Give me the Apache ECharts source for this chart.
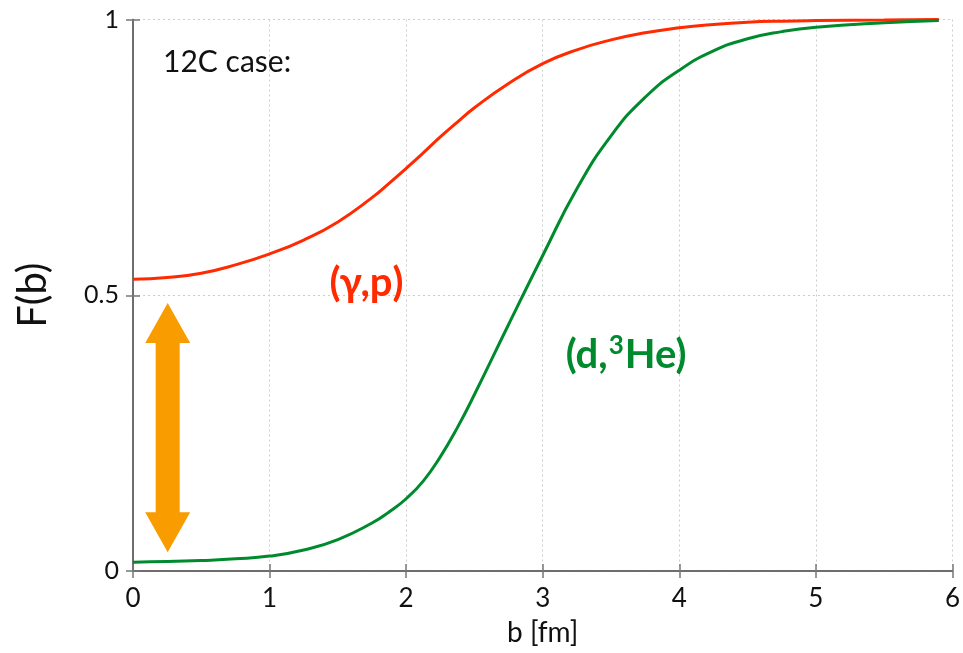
<!DOCTYPE html>
<html>
<head>
<meta charset="utf-8">
<script src="https://cdn.jsdelivr.net/npm/echarts@6/dist/echarts.min.js"></script>
<style>
  html, body { margin: 0; padding: 0; background: #fff; }
  #chart { width: 963px; height: 653px; }
</style>
</head>
<body>
<div id="chart"></div>
<script>
// impact parameter b [fm]
var bValues = [0, 0.25, 0.5, 0.75, 1, 1.25, 1.5, 1.75, 1.875, 2, 2.125, 2.25, 2.375, 2.5, 2.75, 3, 3.25, 3.5, 3.75, 4, 4.25, 4.5, 4.75, 5, 5.5, 5.9]
// F(b) for (gamma,p)
var gammaP = [0.529, 0.532, 0.540, 0.555, 0.575, 0.600, 0.633, 0.677, 0.703, 0.730, 0.758, 0.787, 0.814, 0.840, 0.884, 0.920, 0.945, 0.963, 0.976, 0.985, 0.991, 0.995, 0.997, 0.998, 0.999, 1.0]
// F(b) for (d,3He)
var dHe = [0.016, 0.017, 0.019, 0.022, 0.027, 0.038, 0.057, 0.087, 0.107, 0.131, 0.163, 0.207, 0.260, 0.320, 0.447, 0.572, 0.693, 0.789, 0.859, 0.908, 0.943, 0.965, 0.978, 0.986, 0.994, 0.998]
// orange double arrow: [b, F bottom tip, F top tip]
var arrowData = [[0.254, 0.034, 0.486]]
// text notes: [b, F, text, kind]
var notes = [
  [0.22, 0.923, '12C case:', 'case'],
  [1.71, 0.522, '(γ,p)', 'gp'],
  [3.61, 0.392, '(d,{sup|3}He)', 'dhe']
]

var font = 'Lato'
var red = '#ff2a00'
var green = '#008a2e'
var orange = '#f89c00'

function zip (xs, ys) {
  return xs.map(function (x, i) { return [x, ys[i]] })
}

var chart = echarts.init(document.getElementById('chart'))

var tickInside = { show: true, inside: true, length: 7, lineStyle: { color: '#777', width: 1.5 } }
var frameLine = { show: true, lineStyle: { color: '#666', width: 1.5 } }

chart.setOption({
  animation: false,
  grid: { left: 133, right: 3, top: 19.5, bottom: 82 },
  xAxis: [{
    type: 'value',
    min: 0,
    max: 6,
    interval: 1,
    name: 'b [fm]',
    nameLocation: 'middle',
    nameGap: 48,
    nameTextStyle: { fontFamily: font, fontSize: 28, color: '#111' },
    axisLine: frameLine,
    axisTick: tickInside,
    axisLabel: { fontFamily: font, fontSize: 26, color: '#111', margin: 15 },
    splitLine: { show: true, lineStyle: { color: '#ccc', type: [2, 3] } }
  }, {
    type: 'value',
    position: 'top',
    min: 0,
    max: 6,
    interval: 1,
    axisLine: frameLine,
    axisTick: tickInside,
    axisLabel: { show: false },
    splitLine: { show: false }
  }],
  yAxis: [{
    type: 'value',
    min: 0,
    max: 1,
    interval: 0.5,
    name: 'F(b)',
    nameLocation: 'middle',
    nameGap: 80,
    nameTextStyle: { fontFamily: font, fontSize: 40, color: '#111' },
    axisLine: frameLine,
    axisTick: tickInside,
    axisLabel: { fontFamily: font, fontSize: 25, color: '#111', margin: 14 },
    splitLine: { show: true, lineStyle: { color: '#ccc', type: [2, 3] } }
  }, {
    type: 'value',
    position: 'right',
    min: 0,
    max: 1,
    interval: 0.5,
    axisLine: frameLine,
    axisTick: tickInside,
    axisLabel: { show: false },
    splitLine: { show: false }
  }],
  series: [{
    name: '(γ,p)',
    type: 'line',
    smooth: 0.5,
    showSymbol: false,
    lineStyle: { color: red, width: 3 },
    data: zip(bValues, gammaP)
  }, {
    name: '(d,3He)',
    type: 'line',
    smooth: 0.5,
    showSymbol: false,
    lineStyle: { color: green, width: 3 },
    data: zip(bValues, dHe)
  }, {
    type: 'custom',
    data: arrowData,
    renderItem: function (params, api) {
      var top = api.coord([api.value(0), api.value(2)])
      var bot = api.coord([api.value(0), api.value(1)])
      var cx = top[0]
      var head = 40 // head length px
      var hw = 22.5 // half head width
      var sw = 12 // half shaft width
      return {
        type: 'polygon',
        shape: {
          points: [
            [cx, top[1]], [cx + hw, top[1] + head], [cx + sw, top[1] + head],
            [cx + sw, bot[1] - head], [cx + hw, bot[1] - head], [cx, bot[1]],
            [cx - hw, bot[1] - head], [cx - sw, bot[1] - head],
            [cx - sw, top[1] + head], [cx - hw, top[1] + head]
          ]
        },
        style: { fill: orange }
      }
    }
  }, {
    type: 'scatter',
    symbolSize: 0,
    silent: true,
    itemStyle: { opacity: 1 },
    data: notes.map(function (n) {
      var lbl = { show: true, formatter: n[2], fontFamily: font, opacity: 1, textBorderWidth: 0 }
      if (n[3] === 'case') {
        lbl.position = 'right'
        lbl.distance = 0
        lbl.fontSize = 30
        lbl.color = '#111'
      } else {
        lbl.position = 'inside'
        lbl.fontSize = 40
        lbl.fontWeight = 'bold'
        lbl.color = n[3] === 'gp' ? red : green
        lbl.rich = {
          sup: { fontSize: 26, fontWeight: 'bold', color: green, fontFamily: font, verticalAlign: 'top', padding: [0, 1, 18, 1] }
        }
      }
      return { value: [n[0], n[1]], label: lbl }
    })
  }]
})
</script>
</body>
</html>
